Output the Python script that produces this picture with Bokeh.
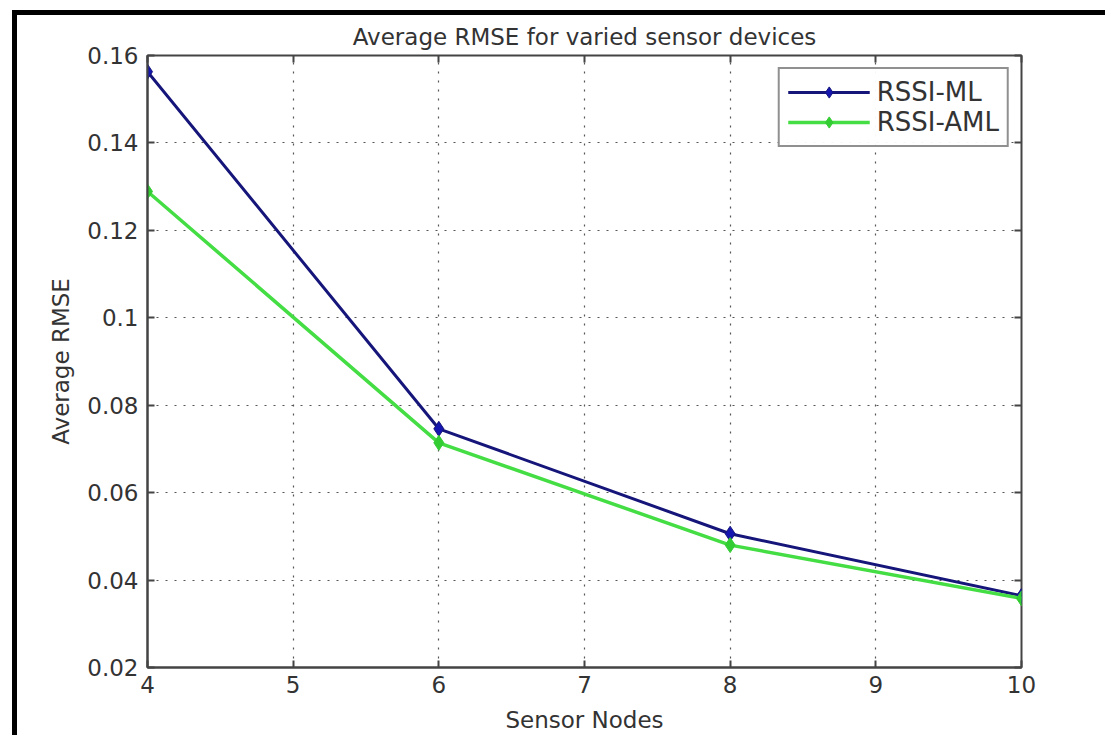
from bokeh.plotting import figure
from bokeh.models import Range1d, LinearAxis, FixedTicker, Legend, LegendItem, CustomJSTickFormatter
from bokeh.layouts import column
from bokeh.embed import file_html
from bokeh.resources import INLINE

sensor_nodes = [4, 6, 8, 10]
rssi_ml = [0.1563, 0.0746, 0.0506, 0.0364]
rssi_aml = [0.1289, 0.0714, 0.0480, 0.0358]
x_ticks = [4, 5, 6, 7, 8, 9, 10]
y_ticks = [0.02, 0.04, 0.06, 0.08, 0.10, 0.12, 0.14, 0.16]
y_tick_labels = {0.02: "0.02", 0.04: "0.04", 0.06: "0.06", 0.08: "0.08",
                 0.10: "0.1", 0.12: "0.12", 0.14: "0.14", 0.16: "0.16"}

FONT = "DejaVu Sans"
TXT = "#333333"
AX = "#444444"

p = figure(width=1088, height=720, output_backend="svg", toolbar_location=None,
           x_range=Range1d(4, 10), y_range=Range1d(0.02, 0.16),
           min_border_left=130, min_border_right=84, min_border_top=40, min_border_bottom=68,
           x_axis_label="Sensor Nodes", y_axis_label="Average RMSE",
           title="Average RMSE for varied sensor devices")
p.title.align = "center"
p.title.text_font = FONT
p.title.text_font_size = "23px"
p.title.text_font_style = "normal"
p.title.text_color = TXT
p.title.standoff = 11

p.outline_line_color = AX
p.outline_line_width = 2

for ax in (p.xaxis[0], p.yaxis[0]):
    ax.axis_line_color = AX
    ax.axis_line_width = 2
    ax.major_tick_line_color = AX
    ax.major_tick_line_width = 2
    ax.major_tick_in = 7
    ax.major_tick_out = 0
    ax.minor_tick_line_color = None
    ax.major_label_text_font = FONT
    ax.major_label_text_font_size = "23px"
    ax.major_label_text_color = TXT
    ax.axis_label_text_font = FONT
    ax.axis_label_text_font_size = "23px"
    ax.axis_label_text_font_style = "normal"
    ax.axis_label_text_color = TXT

p.xaxis[0].ticker = FixedTicker(ticks=x_ticks)
p.yaxis[0].ticker = FixedTicker(ticks=y_ticks)
p.yaxis[0].major_label_overrides = y_tick_labels
p.xaxis[0].major_label_standoff = 8
p.yaxis[0].major_label_standoff = 9
p.xaxis[0].axis_label_standoff = 11
p.yaxis[0].axis_label_standoff = 10

blank = CustomJSTickFormatter(code="return ''")
top_ax = LinearAxis(ticker=FixedTicker(ticks=x_ticks), formatter=blank,
                    axis_line_color=None, major_tick_line_color=AX, major_tick_line_width=2,
                    major_tick_in=7, major_tick_out=0, minor_tick_line_color=None,
                    major_label_standoff=0, major_label_text_font_size="1px")
right_ax = LinearAxis(ticker=FixedTicker(ticks=y_ticks), formatter=blank,
                      axis_line_color=None, major_tick_line_color=AX, major_tick_line_width=2,
                      major_tick_in=7, major_tick_out=0, minor_tick_line_color=None,
                      major_label_standoff=0, major_label_text_font_size="1px")
p.add_layout(top_ax, "above")
p.add_layout(right_ax, "right")

for g in (p.xgrid[0], p.ygrid[0]):
    g.grid_line_color = "#555555"
    g.grid_line_dash = "2 7"
    g.grid_line_width = 1.2
p.xgrid[0].ticker = FixedTicker(ticks=x_ticks)
p.ygrid[0].ticker = FixedTicker(ticks=y_ticks)

l1 = p.line(sensor_nodes, rssi_ml, line_color="#15157a", line_width=3)
m1 = p.scatter(sensor_nodes, rssi_ml, marker="diamond", size=15, fill_color="#1515b0",
               line_color="#15157a")
l2 = p.line(sensor_nodes, rssi_aml, line_color="#44dd44", line_width=3.5)
m2 = p.scatter(sensor_nodes, rssi_aml, marker="diamond", size=15, fill_color="#33cc33",
               line_color="#33cc33")

legend = Legend(items=[LegendItem(label="RSSI-ML", renderers=[l1, m1]),
                       LegendItem(label="RSSI-AML", renderers=[l2, m2])],
                location="top_right")
legend.label_text_font = FONT
legend.label_text_font_size = "26px"
legend.label_text_color = TXT
legend.border_line_color = "#222222"
legend.border_line_width = 2
legend.glyph_width = 82
legend.glyph_height = 28
legend.label_height = 28
legend.spacing = 0
legend.padding = 8
legend.margin = 12
legend.label_standoff = 7
p.add_layout(legend)

lay = column(p, margin=(10, 0, 0, 12),
             styles={"border-left": "5px solid black", "border-top": "5px solid black"})

open("out.html", "w").write(file_html(lay, INLINE))
